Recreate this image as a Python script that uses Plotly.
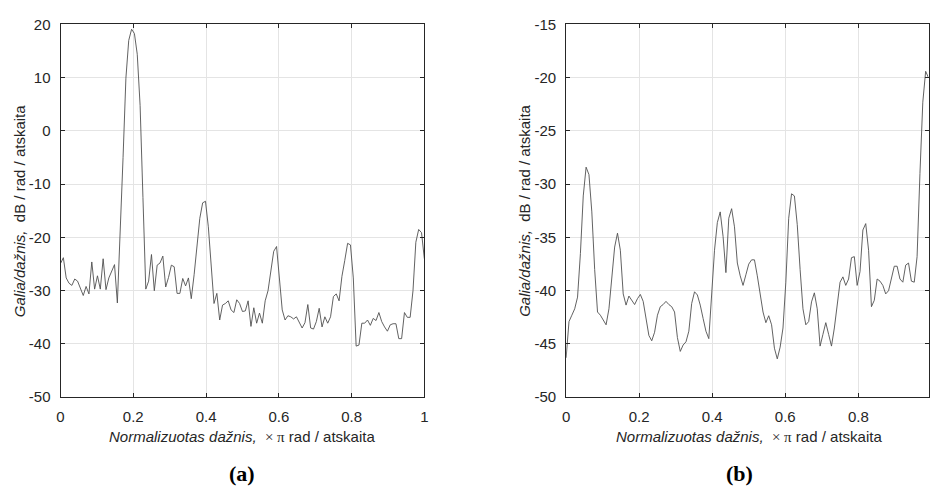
import plotly.graph_objects as go

# ---------------- data ----------------
# (a) 129 points, normalised frequency k/128, k = 0..128
psd_a = [
    -24.9, -23.8, -27.6, -28.6, -29.0, -27.8, -28.2, -29.4, -30.9, -29.2,
    -30.6, -24.6, -29.7, -27.2, -29.7, -24.0, -29.8, -27.6, -26.4, -25.1,
    -32.3, -19.5, -5.0, 9.9, 17.0, 19.1, 18.3, 14.4, 4.8, -12.5,
    -29.7, -28.2, -23.2, -30.0, -25.2, -24.8, -23.5, -29.3, -27.5, -25.2,
    -25.5, -30.5, -30.5, -27.7, -29.1, -27.6, -31.5, -27.0, -22.0, -16.4,
    -13.5, -13.2, -18.0, -25.0, -32.4, -30.5, -35.5, -32.7, -32.4, -31.9,
    -33.6, -34.1, -31.7, -32.4, -33.9, -33.8, -31.9, -36.7, -33.2, -36.1,
    -34.2, -36.1, -31.9, -30.0, -26.7, -22.6, -21.7, -27.3, -33.6, -35.5,
    -34.7, -34.9, -35.3, -34.9, -36.1, -37.0, -36.0, -32.6, -37.0, -37.2,
    -35.8, -33.3, -36.8, -34.9, -36.1, -34.9, -31.1, -30.6, -31.9, -27.3,
    -24.3, -21.1, -21.4, -27.6, -40.4, -40.2, -36.1, -36.1, -35.5, -36.5,
    -35.2, -35.6, -34.1, -35.8, -36.8, -37.6, -36.4, -36.2, -36.2, -39.0,
    -39.0, -34.1, -35.0, -35.0, -30.0, -20.9, -18.5, -19.1, -24.0,
]
# (b) 128 points, normalised frequency k/128, k = 0..127
psd_b = [
    -46.3, -42.9, -42.3, -41.7, -40.6, -36.5, -31.1, -28.4, -29.1, -32.6,
    -38.0, -42.0, -42.3, -42.7, -43.2, -41.7, -38.6, -35.9, -34.6, -36.2,
    -40.3, -41.35, -40.5, -40.9, -41.3, -40.75, -40.35, -41.0, -42.6, -44.2,
    -44.7, -43.9, -42.3, -41.5, -41.3, -41.0, -41.3, -41.5, -42.0, -44.4,
    -45.7, -45.1, -44.8, -43.8, -41.2, -40.1, -40.4, -41.35, -42.6, -43.8,
    -44.5, -40.1, -36.2, -33.6, -32.6, -34.9, -38.3, -33.2, -32.3, -34.0,
    -37.4, -38.6, -39.5, -38.5, -37.5, -37.1, -37.1, -38.6, -40.4, -42.0,
    -43.0, -42.35, -43.2, -45.4, -46.4, -45.3, -43.5, -39.2, -33.2, -30.9,
    -31.1, -33.8, -38.0, -41.7, -43.2, -42.9, -41.05, -40.2, -41.7, -45.2,
    -44.1, -43.0, -44.1, -45.2, -43.5, -41.35, -39.2, -38.7, -39.5, -38.9,
    -36.9, -36.8, -39.5, -38.2, -34.3, -33.7, -36.2, -41.5, -40.9, -38.9,
    -39.1, -39.5, -40.3, -40.0, -38.8, -37.7, -37.7, -38.9, -39.2, -37.6,
    -37.4, -39.1, -39.2, -36.8, -29.0, -22.3, -19.4, -20.0,
]
freq_a = [k / 128 for k in range(len(psd_a))]
freq_b = [k / 128 for k in range(len(psd_b))]

xtick_a = [0, 0.2, 0.4, 0.6, 0.8, 1.0]
xtick_a_text = ["0", "0.2", "0.4", "0.6", "0.8", "1"]
xtick_b = [0, 0.2, 0.4, 0.6, 0.8]
xtick_b_text = ["0", "0.2", "0.4", "0.6", "0.8"]
ytick_a = [20, 10, 0, -10, -20, -30, -40, -50]
ytick_a_text = ["20", "10", "0", "-10", "-20", "-30", "-40", "-50"]
ytick_b = [-15, -20, -25, -30, -35, -40, -45, -50]
ytick_b_text = ["-15", "-20", "-25", "-30", "-35", "-40", "-45", "-50"]

xlabel = ("<i>Normalizuotas dažnis,</i>\u00a0\u00a0"
          "<span style='font-family:Liberation Serif'>×\u00a0π</span>"
          "\u00a0rad / atskaita")
ylabel = "<i>Galia/dažnis,</i>\u00a0\u00a0dB / rad / atskaita"
captions = ["(a)", "(b)"]

# ---------------- figure ----------------
W, H = 933, 496
LINE = "#505050"
AX = "#262626"
GRID = "#e4e4e4"
FONT = "Liberation Sans"

fig = go.Figure()
fig.add_trace(go.Scatter(x=freq_a, y=psd_a, mode="lines",
                         line=dict(color=LINE, width=0.9),
                         xaxis="x", yaxis="y", showlegend=False))
fig.add_trace(go.Scatter(x=freq_b, y=psd_b, mode="lines",
                         line=dict(color=LINE, width=0.9),
                         xaxis="x2", yaxis="y2", showlegend=False))

def px(x):
    return x / W

def py(y):
    return 1 - y / H

common = dict(showline=True, linecolor=AX, linewidth=1, mirror="ticks",
              ticks="inside", ticklen=4, tickcolor=AX, tickwidth=1,
              showgrid=True, gridcolor=GRID, gridwidth=1, zeroline=False,
              tickfont=dict(family=FONT, size=15, color=AX),
              tickmode="array")

ydom = [py(402), py(16)]
fig.update_layout(
    width=W, height=H,
    margin=dict(l=0, r=0, t=0, b=0),
    paper_bgcolor="white", plot_bgcolor="white",
    xaxis=dict(domain=[px(57), px(424)], range=[0, 1], anchor="y",
               tickvals=xtick_a, ticktext=xtick_a_text,
               ticklabelstandoff=6, **common),
    yaxis=dict(domain=ydom, range=[-50, 20], anchor="x",
               tickvals=ytick_a, ticktext=ytick_a_text,
               ticklabelstandoff=6, **common),
    xaxis2=dict(domain=[px(567), px(932.5)], range=[0, 127 / 128], anchor="y2",
                tickvals=xtick_b, ticktext=xtick_b_text,
                ticklabelstandoff=6, **common),
    yaxis2=dict(domain=ydom, range=[-50, -15], anchor="x2",
                tickvals=ytick_b, ticktext=ytick_b_text,
                ticklabelstandoff=6, **common),
)

ann_font = dict(family=FONT, size=15, color=AX)
for xc in (240.5, 751):
    fig.add_annotation(text=xlabel, x=px(xc), y=py(443), xref="paper", yref="paper",
                       showarrow=False, font=ann_font, xanchor="center", yanchor="middle",
                       borderpad=0)
for xc in (15.5, 525.5):
    fig.add_annotation(text=ylabel, x=px(xc), y=py(209), xref="paper", yref="paper",
                       showarrow=False, font=ann_font, textangle=-90,
                       xanchor="center", yanchor="middle")
for xc, cap in zip((240, 742), captions):
    fig.add_annotation(text="<b>" + cap + "</b>", x=px(xc), y=py(481),
                       xref="paper", yref="paper", showarrow=False,
                       font=dict(family="Liberation Serif", size=22, color="black"),
                       xanchor="center", yanchor="middle")

fig.write_html("out.html")
